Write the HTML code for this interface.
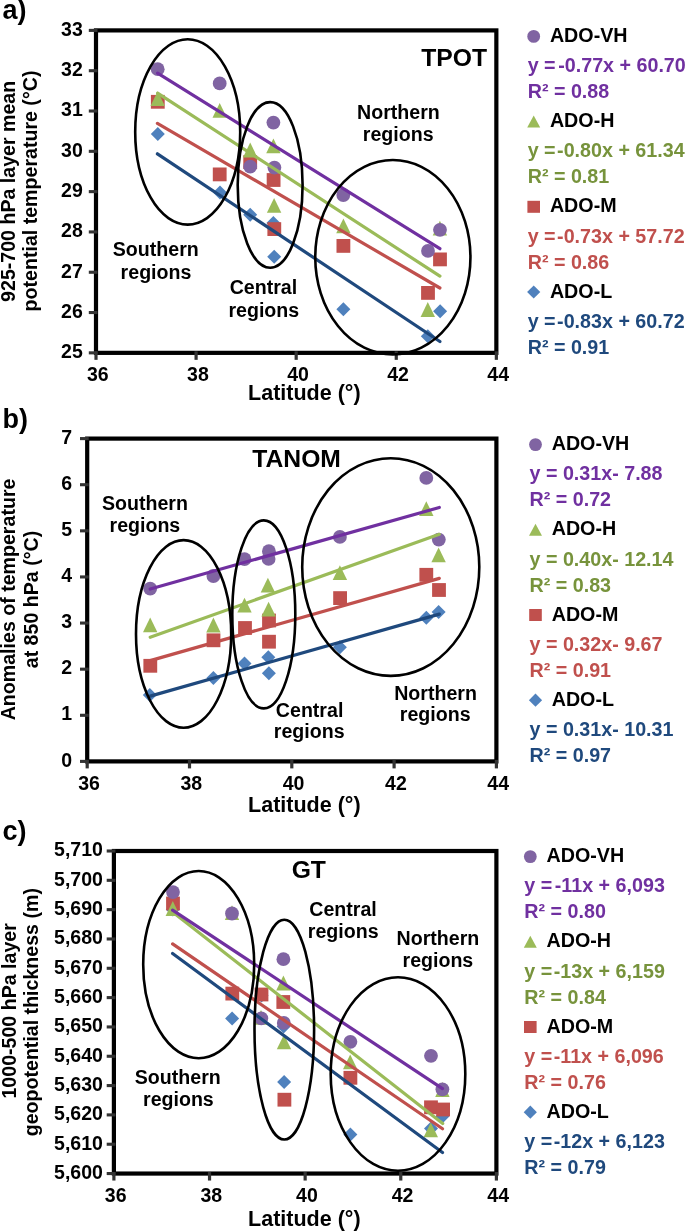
<!DOCTYPE html>
<html><head><meta charset="utf-8"><title>Chart</title>
<style>html,body{margin:0;padding:0;background:#fff;}svg{display:block;will-change:transform;}
text{font-family:"Liberation Sans", sans-serif;font-weight:bold;}</style></head>
<body><svg width="685" height="1231" viewBox="0 0 685 1231">
<rect width="685" height="1231" fill="#fff"/>
<polygon points="157.80,127.00 164.80,134.00 157.80,141.00 150.80,134.00" fill="#4F81BD"/>
<polygon points="220.00,185.50 227.00,192.50 220.00,199.50 213.00,192.50" fill="#4F81BD"/>
<polygon points="250.20,207.80 257.20,214.80 250.20,221.80 243.20,214.80" fill="#4F81BD"/>
<polygon points="273.40,216.00 280.40,223.00 273.40,230.00 266.40,223.00" fill="#4F81BD"/>
<polygon points="274.20,249.70 281.20,256.70 274.20,263.70 267.20,256.70" fill="#4F81BD"/>
<polygon points="343.40,302.30 350.40,309.30 343.40,316.30 336.40,309.30" fill="#4F81BD"/>
<polygon points="427.80,329.20 434.80,336.20 427.80,343.20 420.80,336.20" fill="#4F81BD"/>
<polygon points="440.10,304.30 447.10,311.30 440.10,318.30 433.10,311.30" fill="#4F81BD"/>
<rect x="150.90" y="94.90" width="13.80" height="13.80" fill="#C0504D"/>
<rect x="212.80" y="167.50" width="13.80" height="13.80" fill="#C0504D"/>
<rect x="243.30" y="155.20" width="13.80" height="13.80" fill="#C0504D"/>
<rect x="266.70" y="173.10" width="13.80" height="13.80" fill="#C0504D"/>
<rect x="267.40" y="222.20" width="13.80" height="13.80" fill="#C0504D"/>
<rect x="336.50" y="239.00" width="13.80" height="13.80" fill="#C0504D"/>
<rect x="421.10" y="286.00" width="13.80" height="13.80" fill="#C0504D"/>
<rect x="433.10" y="252.50" width="13.80" height="13.80" fill="#C0504D"/>
<polygon points="157.70,91.20 164.90,106.00 150.50,106.00" fill="#9BBB59"/>
<polygon points="219.70,103.00 226.90,117.80 212.50,117.80" fill="#9BBB59"/>
<polygon points="250.20,142.60 257.40,157.40 243.00,157.40" fill="#9BBB59"/>
<polygon points="273.40,138.40 280.60,153.20 266.20,153.20" fill="#9BBB59"/>
<polygon points="274.10,197.90 281.30,212.70 266.90,212.70" fill="#9BBB59"/>
<polygon points="343.40,218.50 350.60,233.30 336.20,233.30" fill="#9BBB59"/>
<polygon points="427.80,302.10 435.00,316.90 420.60,316.90" fill="#9BBB59"/>
<polygon points="439.90,220.80 447.10,235.60 432.70,235.60" fill="#9BBB59"/>
<circle cx="157.70" cy="69.20" r="6.90" fill="#8064A2"/>
<circle cx="219.70" cy="83.40" r="6.90" fill="#8064A2"/>
<circle cx="250.20" cy="166.70" r="6.90" fill="#8064A2"/>
<circle cx="273.40" cy="122.60" r="6.90" fill="#8064A2"/>
<circle cx="274.40" cy="167.60" r="6.90" fill="#8064A2"/>
<circle cx="343.30" cy="195.00" r="6.90" fill="#8064A2"/>
<circle cx="428.00" cy="250.90" r="6.90" fill="#8064A2"/>
<circle cx="440.00" cy="229.80" r="6.90" fill="#8064A2"/>
<line x1="157.40" y1="153.80" x2="439.90" y2="341.50" stroke="#1F497D" stroke-width="3.2" stroke-linecap="round"/>
<line x1="157.40" y1="123.40" x2="439.90" y2="288.00" stroke="#C0504D" stroke-width="3.2" stroke-linecap="round"/>
<line x1="157.60" y1="93.20" x2="439.90" y2="276.10" stroke="#9BBB59" stroke-width="3.2" stroke-linecap="round"/>
<line x1="157.60" y1="73.20" x2="439.90" y2="248.70" stroke="#7030A0" stroke-width="3.2" stroke-linecap="round"/>
<rect x="96.00" y="30.40" width="400.35" height="322.45" fill="none" stroke="#000" stroke-width="4.2"/>
<line x1="88.80" y1="30.40" x2="97.50" y2="30.40" stroke="#333333" stroke-width="3.1" stroke-linecap="butt"/>
<text x="82.80" y="35.80" font-size="19.5" text-anchor="end" fill="#000" >33</text>
<line x1="88.80" y1="70.71" x2="97.50" y2="70.71" stroke="#333333" stroke-width="3.1" stroke-linecap="butt"/>
<text x="82.80" y="76.11" font-size="19.5" text-anchor="end" fill="#000" >32</text>
<line x1="88.80" y1="111.01" x2="97.50" y2="111.01" stroke="#333333" stroke-width="3.1" stroke-linecap="butt"/>
<text x="82.80" y="116.41" font-size="19.5" text-anchor="end" fill="#000" >31</text>
<line x1="88.80" y1="151.32" x2="97.50" y2="151.32" stroke="#333333" stroke-width="3.1" stroke-linecap="butt"/>
<text x="82.80" y="156.72" font-size="19.5" text-anchor="end" fill="#000" >30</text>
<line x1="88.80" y1="191.63" x2="97.50" y2="191.63" stroke="#333333" stroke-width="3.1" stroke-linecap="butt"/>
<text x="82.80" y="197.03" font-size="19.5" text-anchor="end" fill="#000" >29</text>
<line x1="88.80" y1="231.93" x2="97.50" y2="231.93" stroke="#333333" stroke-width="3.1" stroke-linecap="butt"/>
<text x="82.80" y="237.33" font-size="19.5" text-anchor="end" fill="#000" >28</text>
<line x1="88.80" y1="272.24" x2="97.50" y2="272.24" stroke="#333333" stroke-width="3.1" stroke-linecap="butt"/>
<text x="82.80" y="277.64" font-size="19.5" text-anchor="end" fill="#000" >27</text>
<line x1="88.80" y1="312.54" x2="97.50" y2="312.54" stroke="#333333" stroke-width="3.1" stroke-linecap="butt"/>
<text x="82.80" y="317.94" font-size="19.5" text-anchor="end" fill="#000" >26</text>
<line x1="88.80" y1="352.85" x2="97.50" y2="352.85" stroke="#333333" stroke-width="3.1" stroke-linecap="butt"/>
<text x="82.80" y="358.25" font-size="19.5" text-anchor="end" fill="#000" >25</text>
<line x1="96.00" y1="351.35" x2="96.00" y2="359.85" stroke="#333333" stroke-width="3.2" stroke-linecap="butt"/>
<text x="97.80" y="381.00" font-size="19.5" text-anchor="middle" fill="#000" >36</text>
<line x1="196.09" y1="351.35" x2="196.09" y2="359.85" stroke="#333333" stroke-width="3.2" stroke-linecap="butt"/>
<text x="197.89" y="381.00" font-size="19.5" text-anchor="middle" fill="#000" >38</text>
<line x1="296.18" y1="351.35" x2="296.18" y2="359.85" stroke="#333333" stroke-width="3.2" stroke-linecap="butt"/>
<text x="297.98" y="381.00" font-size="19.5" text-anchor="middle" fill="#000" >40</text>
<line x1="396.26" y1="351.35" x2="396.26" y2="359.85" stroke="#333333" stroke-width="3.2" stroke-linecap="butt"/>
<text x="398.06" y="381.00" font-size="19.5" text-anchor="middle" fill="#000" >42</text>
<line x1="496.35" y1="351.35" x2="496.35" y2="359.85" stroke="#333333" stroke-width="3.2" stroke-linecap="butt"/>
<text x="498.15" y="381.00" font-size="19.5" text-anchor="middle" fill="#000" >44</text>
<ellipse cx="187.70" cy="131.95" rx="52.50" ry="92.65" fill="none" stroke="#000" stroke-width="2.6"/>
<ellipse cx="270.15" cy="184.90" rx="32.45" ry="82.80" fill="none" stroke="#000" stroke-width="2.6"/>
<ellipse cx="392.85" cy="257.25" rx="77.60" ry="97.20" fill="none" stroke="#000" stroke-width="2.6"/>
<text x="454.10" y="65.50" font-size="24.7" text-anchor="middle" fill="#000" >TPOT</text>
<text x="398.40" y="119.00" font-size="19.6" text-anchor="middle" fill="#000" >Northern</text>
<text x="398.20" y="140.90" font-size="19.6" text-anchor="middle" fill="#000" >regions</text>
<text x="155.80" y="255.90" font-size="19.6" text-anchor="middle" fill="#000" >Southern</text>
<text x="156.00" y="278.70" font-size="19.6" text-anchor="middle" fill="#000" >regions</text>
<text x="263.40" y="294.00" font-size="19.6" text-anchor="middle" fill="#000" >Central</text>
<text x="263.80" y="316.80" font-size="19.6" text-anchor="middle" fill="#000" >regions</text>
<text transform="translate(15.30,191.35) rotate(-90)" x="0" y="0" font-size="19.6" text-anchor="middle">925-700 hPa layer mean</text>
<text transform="translate(36.80,191.00) rotate(-90)" x="0" y="0" font-size="19.6" text-anchor="middle">potential temperature (°C)</text>
<text x="304.30" y="400.20" font-size="21.5" text-anchor="middle" fill="#000" >Latitude (°)</text>
<text x="2.50" y="19.40" font-size="27" text-anchor="start" fill="#000" >a)</text>
<circle cx="533.70" cy="36.40" r="6.4" fill="#8064A2"/>
<text x="549.90" y="41.90" font-size="19.7" text-anchor="start" fill="#000" >ADO-VH</text>
<text x="527.70" y="72.20" font-size="19.7" text-anchor="start" fill="#7030A0" >y =<tspan dx="2.6">-0.77x + 60.70</tspan></text>
<text x="527.70" y="98.10" font-size="19.7" text-anchor="start" fill="#7030A0" >R² = 0.88</text>
<polygon points="533.70,115.60 540.20,127.60 527.20,127.60" fill="#9BBB59"/>
<text x="549.90" y="127.10" font-size="19.7" text-anchor="start" fill="#000" >ADO-H</text>
<text x="527.70" y="157.40" font-size="19.7" text-anchor="start" fill="#77933C" >y =<tspan dx="1.5">-0.80x + 61.34</tspan></text>
<text x="527.70" y="183.30" font-size="19.7" text-anchor="start" fill="#77933C" >R² = 0.81</text>
<rect x="527.40" y="200.80" width="12.6" height="12" fill="#C0504D"/>
<text x="549.90" y="212.30" font-size="19.7" text-anchor="start" fill="#000" >ADO-M</text>
<text x="527.70" y="242.60" font-size="19.7" text-anchor="start" fill="#C0504D" >y =<tspan dx="1.5">-0.73x + 57.72</tspan></text>
<text x="527.70" y="268.50" font-size="19.7" text-anchor="start" fill="#C0504D" >R² = 0.86</text>
<polygon points="533.70,285.40 540.30,292.00 533.70,298.60 527.10,292.00" fill="#4F81BD"/>
<text x="549.90" y="297.50" font-size="19.7" text-anchor="start" fill="#000" >ADO-L</text>
<text x="527.70" y="327.80" font-size="19.7" text-anchor="start" fill="#1F497D" >y =<tspan dx="1.5">-0.83x + 60.72</tspan></text>
<text x="527.70" y="353.70" font-size="19.7" text-anchor="start" fill="#1F497D" >R² = 0.91</text>
<polygon points="149.80,687.90 156.80,694.90 149.80,701.90 142.80,694.90" fill="#4F81BD"/>
<polygon points="213.40,671.10 220.40,678.10 213.40,685.10 206.40,678.10" fill="#4F81BD"/>
<polygon points="244.50,656.50 251.50,663.50 244.50,670.50 237.50,663.50" fill="#4F81BD"/>
<polygon points="268.30,650.20 275.30,657.20 268.30,664.20 261.30,657.20" fill="#4F81BD"/>
<polygon points="268.90,666.30 275.90,673.30 268.90,680.30 261.90,673.30" fill="#4F81BD"/>
<polygon points="339.90,640.20 346.90,647.20 339.90,654.20 332.90,647.20" fill="#4F81BD"/>
<polygon points="426.30,610.80 433.30,617.80 426.30,624.80 419.30,617.80" fill="#4F81BD"/>
<polygon points="438.60,605.10 445.60,612.10 438.60,619.10 431.60,612.10" fill="#4F81BD"/>
<rect x="143.40" y="658.90" width="13.80" height="13.80" fill="#C0504D"/>
<rect x="206.60" y="633.40" width="13.80" height="13.80" fill="#C0504D"/>
<rect x="238.10" y="621.10" width="13.80" height="13.80" fill="#C0504D"/>
<rect x="262.10" y="613.60" width="13.80" height="13.80" fill="#C0504D"/>
<rect x="262.10" y="634.80" width="13.80" height="13.80" fill="#C0504D"/>
<rect x="333.20" y="591.20" width="13.80" height="13.80" fill="#C0504D"/>
<rect x="419.40" y="567.90" width="13.80" height="13.80" fill="#C0504D"/>
<rect x="432.10" y="583.10" width="13.80" height="13.80" fill="#C0504D"/>
<polygon points="150.20,617.50 157.40,632.30 143.00,632.30" fill="#9BBB59"/>
<polygon points="213.40,617.60 220.60,632.40 206.20,632.40" fill="#9BBB59"/>
<polygon points="244.50,597.80 251.70,612.60 237.30,612.60" fill="#9BBB59"/>
<polygon points="267.90,577.70 275.10,592.50 260.70,592.50" fill="#9BBB59"/>
<polygon points="268.60,601.80 275.80,616.60 261.40,616.60" fill="#9BBB59"/>
<polygon points="339.90,565.30 347.10,580.10 332.70,580.10" fill="#9BBB59"/>
<polygon points="426.30,501.20 433.50,516.00 419.10,516.00" fill="#9BBB59"/>
<polygon points="438.60,547.50 445.80,562.30 431.40,562.30" fill="#9BBB59"/>
<circle cx="150.20" cy="588.60" r="6.90" fill="#8064A2"/>
<circle cx="213.40" cy="576.00" r="6.90" fill="#8064A2"/>
<circle cx="244.50" cy="559.20" r="6.90" fill="#8064A2"/>
<circle cx="268.90" cy="551.20" r="6.90" fill="#8064A2"/>
<circle cx="268.60" cy="558.90" r="6.90" fill="#8064A2"/>
<circle cx="339.90" cy="536.90" r="6.90" fill="#8064A2"/>
<circle cx="426.30" cy="477.90" r="6.90" fill="#8064A2"/>
<circle cx="438.80" cy="539.60" r="6.90" fill="#8064A2"/>
<line x1="150.20" y1="696.10" x2="439.30" y2="614.10" stroke="#1F497D" stroke-width="3.2" stroke-linecap="round"/>
<line x1="150.20" y1="660.60" x2="439.30" y2="578.40" stroke="#C0504D" stroke-width="3.2" stroke-linecap="round"/>
<line x1="150.20" y1="637.30" x2="439.30" y2="534.30" stroke="#9BBB59" stroke-width="3.2" stroke-linecap="round"/>
<line x1="150.20" y1="589.00" x2="439.30" y2="507.50" stroke="#7030A0" stroke-width="3.2" stroke-linecap="round"/>
<rect x="87.20" y="438.60" width="409.20" height="322.80" fill="none" stroke="#000" stroke-width="4.2"/>
<line x1="80.00" y1="438.60" x2="88.70" y2="438.60" stroke="#333333" stroke-width="3.1" stroke-linecap="butt"/>
<text x="72.00" y="443.80" font-size="19.5" text-anchor="end" fill="#000" >7</text>
<line x1="80.00" y1="484.71" x2="88.70" y2="484.71" stroke="#333333" stroke-width="3.1" stroke-linecap="butt"/>
<text x="72.00" y="489.91" font-size="19.5" text-anchor="end" fill="#000" >6</text>
<line x1="80.00" y1="530.83" x2="88.70" y2="530.83" stroke="#333333" stroke-width="3.1" stroke-linecap="butt"/>
<text x="72.00" y="536.03" font-size="19.5" text-anchor="end" fill="#000" >5</text>
<line x1="80.00" y1="576.94" x2="88.70" y2="576.94" stroke="#333333" stroke-width="3.1" stroke-linecap="butt"/>
<text x="72.00" y="582.14" font-size="19.5" text-anchor="end" fill="#000" >4</text>
<line x1="80.00" y1="623.06" x2="88.70" y2="623.06" stroke="#333333" stroke-width="3.1" stroke-linecap="butt"/>
<text x="72.00" y="628.26" font-size="19.5" text-anchor="end" fill="#000" >3</text>
<line x1="80.00" y1="669.17" x2="88.70" y2="669.17" stroke="#333333" stroke-width="3.1" stroke-linecap="butt"/>
<text x="72.00" y="674.37" font-size="19.5" text-anchor="end" fill="#000" >2</text>
<line x1="80.00" y1="715.29" x2="88.70" y2="715.29" stroke="#333333" stroke-width="3.1" stroke-linecap="butt"/>
<text x="72.00" y="720.49" font-size="19.5" text-anchor="end" fill="#000" >1</text>
<line x1="80.00" y1="761.40" x2="88.70" y2="761.40" stroke="#333333" stroke-width="3.1" stroke-linecap="butt"/>
<text x="72.00" y="766.60" font-size="19.5" text-anchor="end" fill="#000" >0</text>
<line x1="87.20" y1="759.90" x2="87.20" y2="768.40" stroke="#333333" stroke-width="3.2" stroke-linecap="butt"/>
<text x="89.00" y="789.70" font-size="19.5" text-anchor="middle" fill="#000" >36</text>
<line x1="189.50" y1="759.90" x2="189.50" y2="768.40" stroke="#333333" stroke-width="3.2" stroke-linecap="butt"/>
<text x="191.30" y="789.70" font-size="19.5" text-anchor="middle" fill="#000" >38</text>
<line x1="291.80" y1="759.90" x2="291.80" y2="768.40" stroke="#333333" stroke-width="3.2" stroke-linecap="butt"/>
<text x="293.60" y="789.70" font-size="19.5" text-anchor="middle" fill="#000" >40</text>
<line x1="394.10" y1="759.90" x2="394.10" y2="768.40" stroke="#333333" stroke-width="3.2" stroke-linecap="butt"/>
<text x="395.90" y="789.70" font-size="19.5" text-anchor="middle" fill="#000" >42</text>
<line x1="496.40" y1="759.90" x2="496.40" y2="768.40" stroke="#333333" stroke-width="3.2" stroke-linecap="butt"/>
<text x="498.20" y="789.70" font-size="19.5" text-anchor="middle" fill="#000" >44</text>
<ellipse cx="183.60" cy="633.90" rx="47.60" ry="93.80" fill="none" stroke="#000" stroke-width="2.6"/>
<ellipse cx="263.80" cy="614.40" rx="31.50" ry="94.00" fill="none" stroke="#000" stroke-width="2.6"/>
<ellipse cx="390.75" cy="567.10" rx="88.55" ry="108.80" fill="none" stroke="#000" stroke-width="2.6"/>
<text x="296.60" y="467.10" font-size="24.7" text-anchor="middle" fill="#000" >TANOM</text>
<text x="144.90" y="509.80" font-size="19.6" text-anchor="middle" fill="#000" >Southern</text>
<text x="144.90" y="532.40" font-size="19.6" text-anchor="middle" fill="#000" >regions</text>
<text x="309.60" y="716.70" font-size="19.6" text-anchor="middle" fill="#000" >Central</text>
<text x="309.20" y="737.70" font-size="19.6" text-anchor="middle" fill="#000" >regions</text>
<text x="435.60" y="699.90" font-size="19.6" text-anchor="middle" fill="#000" >Northern</text>
<text x="435.20" y="721.30" font-size="19.6" text-anchor="middle" fill="#000" >regions</text>
<text transform="translate(15.20,599.45) rotate(-90)" x="0" y="0" font-size="19.6" text-anchor="middle">Anomalies of temperature</text>
<text transform="translate(38.25,599.55) rotate(-90)" x="0" y="0" font-size="19.6" text-anchor="middle">at 850 hPa (°C)</text>
<text x="304.30" y="811.60" font-size="21.5" text-anchor="middle" fill="#000" >Latitude (°)</text>
<text x="2.50" y="427.60" font-size="27" text-anchor="start" fill="#000" >b)</text>
<circle cx="535.50" cy="444.60" r="6.4" fill="#8064A2"/>
<text x="551.70" y="450.10" font-size="19.7" text-anchor="start" fill="#000" >ADO-VH</text>
<text x="529.50" y="480.40" font-size="19.7" text-anchor="start" fill="#7030A0" >y = 0.31x- 7.88</text>
<text x="529.50" y="506.30" font-size="19.7" text-anchor="start" fill="#7030A0" >R² = 0.72</text>
<polygon points="535.50,523.80 542.00,535.80 529.00,535.80" fill="#9BBB59"/>
<text x="551.70" y="535.30" font-size="19.7" text-anchor="start" fill="#000" >ADO-H</text>
<text x="529.50" y="565.60" font-size="19.7" text-anchor="start" fill="#77933C" >y = 0.40x- 12.14</text>
<text x="529.50" y="591.50" font-size="19.7" text-anchor="start" fill="#77933C" >R² = 0.83</text>
<rect x="529.20" y="609.00" width="12.6" height="12" fill="#C0504D"/>
<text x="551.70" y="620.50" font-size="19.7" text-anchor="start" fill="#000" >ADO-M</text>
<text x="529.50" y="650.80" font-size="19.7" text-anchor="start" fill="#C0504D" >y = 0.32x- 9.67</text>
<text x="529.50" y="676.70" font-size="19.7" text-anchor="start" fill="#C0504D" >R² = 0.91</text>
<polygon points="535.50,693.60 542.10,700.20 535.50,706.80 528.90,700.20" fill="#4F81BD"/>
<text x="551.70" y="705.70" font-size="19.7" text-anchor="start" fill="#000" >ADO-L</text>
<text x="529.50" y="736.00" font-size="19.7" text-anchor="start" fill="#1F497D" >y = 0.31x- 10.31</text>
<text x="529.50" y="761.90" font-size="19.7" text-anchor="start" fill="#1F497D" >R² = 0.97</text>
<polygon points="172.80,902.50 179.80,909.50 172.80,916.50 165.80,909.50" fill="#4F81BD"/>
<polygon points="232.10,1011.40 239.10,1018.40 232.10,1025.40 225.10,1018.40" fill="#4F81BD"/>
<polygon points="261.50,988.50 268.50,995.50 261.50,1002.50 254.50,995.50" fill="#4F81BD"/>
<polygon points="283.60,1019.60 290.60,1026.60 283.60,1033.60 276.60,1026.60" fill="#4F81BD"/>
<polygon points="284.10,1075.00 291.10,1082.00 284.10,1089.00 277.10,1082.00" fill="#4F81BD"/>
<polygon points="350.40,1127.50 357.40,1134.50 350.40,1141.50 343.40,1134.50" fill="#4F81BD"/>
<polygon points="431.00,1121.40 438.00,1128.40 431.00,1135.40 424.00,1128.40" fill="#4F81BD"/>
<polygon points="442.40,1109.40 449.40,1116.40 442.40,1123.40 435.40,1116.40" fill="#4F81BD"/>
<rect x="166.10" y="896.60" width="13.80" height="13.80" fill="#C0504D"/>
<rect x="225.40" y="986.70" width="13.80" height="13.80" fill="#C0504D"/>
<rect x="254.60" y="987.60" width="13.80" height="13.80" fill="#C0504D"/>
<rect x="276.40" y="995.10" width="13.80" height="13.80" fill="#C0504D"/>
<rect x="277.50" y="1092.80" width="13.80" height="13.80" fill="#C0504D"/>
<rect x="343.50" y="1070.90" width="13.80" height="13.80" fill="#C0504D"/>
<rect x="424.10" y="1100.40" width="13.80" height="13.80" fill="#C0504D"/>
<rect x="436.20" y="1102.60" width="13.80" height="13.80" fill="#C0504D"/>
<polygon points="172.80,901.10 180.00,915.90 165.60,915.90" fill="#9BBB59"/>
<polygon points="232.00,905.30 239.20,920.10 224.80,920.10" fill="#9BBB59"/>
<polygon points="261.00,1010.00 268.20,1024.80 253.80,1024.80" fill="#9BBB59"/>
<polygon points="283.40,975.60 290.60,990.40 276.20,990.40" fill="#9BBB59"/>
<polygon points="284.00,1034.40 291.20,1049.20 276.80,1049.20" fill="#9BBB59"/>
<polygon points="350.20,1054.50 357.40,1069.30 343.00,1069.30" fill="#9BBB59"/>
<polygon points="430.80,1122.50 438.00,1137.30 423.60,1137.30" fill="#9BBB59"/>
<polygon points="442.40,1082.10 449.60,1096.90 435.20,1096.90" fill="#9BBB59"/>
<circle cx="173.00" cy="892.10" r="6.90" fill="#8064A2"/>
<circle cx="232.00" cy="913.50" r="6.90" fill="#8064A2"/>
<circle cx="261.30" cy="1018.30" r="6.90" fill="#8064A2"/>
<circle cx="283.40" cy="959.20" r="6.90" fill="#8064A2"/>
<circle cx="283.80" cy="1022.90" r="6.90" fill="#8064A2"/>
<circle cx="350.40" cy="1041.80" r="6.90" fill="#8064A2"/>
<circle cx="431.00" cy="1055.80" r="6.90" fill="#8064A2"/>
<circle cx="442.40" cy="1089.30" r="6.90" fill="#8064A2"/>
<line x1="172.60" y1="953.50" x2="442.50" y2="1152.50" stroke="#1F497D" stroke-width="3.2" stroke-linecap="round"/>
<line x1="172.60" y1="943.90" x2="442.50" y2="1128.80" stroke="#C0504D" stroke-width="3.2" stroke-linecap="round"/>
<line x1="172.60" y1="912.00" x2="442.70" y2="1123.60" stroke="#9BBB59" stroke-width="3.2" stroke-linecap="round"/>
<line x1="172.60" y1="910.10" x2="442.50" y2="1088.60" stroke="#7030A0" stroke-width="3.2" stroke-linecap="round"/>
<rect x="113.90" y="851.00" width="382.50" height="322.55" fill="none" stroke="#000" stroke-width="4.2"/>
<line x1="106.70" y1="851.00" x2="115.40" y2="851.00" stroke="#333333" stroke-width="3.1" stroke-linecap="butt"/>
<text x="102.90" y="856.40" font-size="19.5" text-anchor="end" fill="#000" >5,710</text>
<line x1="106.70" y1="880.32" x2="115.40" y2="880.32" stroke="#333333" stroke-width="3.1" stroke-linecap="butt"/>
<text x="102.90" y="885.72" font-size="19.5" text-anchor="end" fill="#000" >5,700</text>
<line x1="106.70" y1="909.65" x2="115.40" y2="909.65" stroke="#333333" stroke-width="3.1" stroke-linecap="butt"/>
<text x="102.90" y="915.05" font-size="19.5" text-anchor="end" fill="#000" >5,690</text>
<line x1="106.70" y1="938.97" x2="115.40" y2="938.97" stroke="#333333" stroke-width="3.1" stroke-linecap="butt"/>
<text x="102.90" y="944.37" font-size="19.5" text-anchor="end" fill="#000" >5,680</text>
<line x1="106.70" y1="968.29" x2="115.40" y2="968.29" stroke="#333333" stroke-width="3.1" stroke-linecap="butt"/>
<text x="102.90" y="973.69" font-size="19.5" text-anchor="end" fill="#000" >5,670</text>
<line x1="106.70" y1="997.61" x2="115.40" y2="997.61" stroke="#333333" stroke-width="3.1" stroke-linecap="butt"/>
<text x="102.90" y="1003.01" font-size="19.5" text-anchor="end" fill="#000" >5,660</text>
<line x1="106.70" y1="1026.94" x2="115.40" y2="1026.94" stroke="#333333" stroke-width="3.1" stroke-linecap="butt"/>
<text x="102.90" y="1032.34" font-size="19.5" text-anchor="end" fill="#000" >5,650</text>
<line x1="106.70" y1="1056.26" x2="115.40" y2="1056.26" stroke="#333333" stroke-width="3.1" stroke-linecap="butt"/>
<text x="102.90" y="1061.66" font-size="19.5" text-anchor="end" fill="#000" >5,640</text>
<line x1="106.70" y1="1085.58" x2="115.40" y2="1085.58" stroke="#333333" stroke-width="3.1" stroke-linecap="butt"/>
<text x="102.90" y="1090.98" font-size="19.5" text-anchor="end" fill="#000" >5,630</text>
<line x1="106.70" y1="1114.90" x2="115.40" y2="1114.90" stroke="#333333" stroke-width="3.1" stroke-linecap="butt"/>
<text x="102.90" y="1120.30" font-size="19.5" text-anchor="end" fill="#000" >5,620</text>
<line x1="106.70" y1="1144.23" x2="115.40" y2="1144.23" stroke="#333333" stroke-width="3.1" stroke-linecap="butt"/>
<text x="102.90" y="1149.63" font-size="19.5" text-anchor="end" fill="#000" >5,610</text>
<line x1="106.70" y1="1173.55" x2="115.40" y2="1173.55" stroke="#333333" stroke-width="3.1" stroke-linecap="butt"/>
<text x="102.90" y="1178.95" font-size="19.5" text-anchor="end" fill="#000" >5,600</text>
<line x1="113.90" y1="1172.05" x2="113.90" y2="1180.55" stroke="#333333" stroke-width="3.2" stroke-linecap="butt"/>
<text x="115.70" y="1202.20" font-size="19.5" text-anchor="middle" fill="#000" >36</text>
<line x1="209.53" y1="1172.05" x2="209.53" y2="1180.55" stroke="#333333" stroke-width="3.2" stroke-linecap="butt"/>
<text x="211.33" y="1202.20" font-size="19.5" text-anchor="middle" fill="#000" >38</text>
<line x1="305.15" y1="1172.05" x2="305.15" y2="1180.55" stroke="#333333" stroke-width="3.2" stroke-linecap="butt"/>
<text x="306.95" y="1202.20" font-size="19.5" text-anchor="middle" fill="#000" >40</text>
<line x1="400.77" y1="1172.05" x2="400.77" y2="1180.55" stroke="#333333" stroke-width="3.2" stroke-linecap="butt"/>
<text x="402.57" y="1202.20" font-size="19.5" text-anchor="middle" fill="#000" >42</text>
<line x1="496.40" y1="1172.05" x2="496.40" y2="1180.55" stroke="#333333" stroke-width="3.2" stroke-linecap="butt"/>
<text x="498.20" y="1202.20" font-size="19.5" text-anchor="middle" fill="#000" >44</text>
<ellipse cx="198.70" cy="964.60" rx="55.50" ry="93.60" fill="none" stroke="#000" stroke-width="2.6"/>
<ellipse cx="284.30" cy="1029.60" rx="29.80" ry="109.90" fill="none" stroke="#000" stroke-width="2.6"/>
<ellipse cx="398.00" cy="1074.00" rx="67.30" ry="96.70" fill="none" stroke="#000" stroke-width="2.6"/>
<text x="308.80" y="878.10" font-size="24.7" text-anchor="middle" fill="#000" >GT</text>
<text x="343.00" y="915.90" font-size="19.6" text-anchor="middle" fill="#000" >Central</text>
<text x="343.20" y="938.00" font-size="19.6" text-anchor="middle" fill="#000" >regions</text>
<text x="437.90" y="944.50" font-size="19.6" text-anchor="middle" fill="#000" >Northern</text>
<text x="437.90" y="966.50" font-size="19.6" text-anchor="middle" fill="#000" >regions</text>
<text x="177.80" y="1083.70" font-size="19.6" text-anchor="middle" fill="#000" >Southern</text>
<text x="178.40" y="1106.30" font-size="19.6" text-anchor="middle" fill="#000" >regions</text>
<text transform="translate(15.90,1010.85) rotate(-90)" x="0" y="0" font-size="19.6" text-anchor="middle">1000-500 hPa layer</text>
<text transform="translate(38.20,1012.20) rotate(-90)" x="0" y="0" font-size="19.6" text-anchor="middle">geopotential thickness (m)</text>
<text x="304.30" y="1225.50" font-size="21.5" text-anchor="middle" fill="#000" >Latitude (°)</text>
<text x="2.50" y="840.30" font-size="27" text-anchor="start" fill="#000" >c)</text>
<circle cx="530.30" cy="856.60" r="6.4" fill="#8064A2"/>
<text x="546.50" y="862.10" font-size="19.7" text-anchor="start" fill="#000" >ADO-VH</text>
<text x="524.30" y="892.40" font-size="19.7" text-anchor="start" fill="#7030A0" >y =<tspan dx="2.6">-11x + 6,093</tspan></text>
<text x="524.30" y="918.30" font-size="19.7" text-anchor="start" fill="#7030A0" >R² = 0.80</text>
<polygon points="530.30,935.80 536.80,947.80 523.80,947.80" fill="#9BBB59"/>
<text x="546.50" y="947.30" font-size="19.7" text-anchor="start" fill="#000" >ADO-H</text>
<text x="524.30" y="977.60" font-size="19.7" text-anchor="start" fill="#77933C" >y =<tspan dx="1.5">-13x + 6,159</tspan></text>
<text x="524.30" y="1003.50" font-size="19.7" text-anchor="start" fill="#77933C" >R² = 0.84</text>
<rect x="524.00" y="1021.00" width="12.6" height="12" fill="#C0504D"/>
<text x="546.50" y="1032.50" font-size="19.7" text-anchor="start" fill="#000" >ADO-M</text>
<text x="524.30" y="1062.80" font-size="19.7" text-anchor="start" fill="#C0504D" >y =<tspan dx="1.5">-11x + 6,096</tspan></text>
<text x="524.30" y="1088.70" font-size="19.7" text-anchor="start" fill="#C0504D" >R² = 0.76</text>
<polygon points="530.30,1105.60 536.90,1112.20 530.30,1118.80 523.70,1112.20" fill="#4F81BD"/>
<text x="546.50" y="1117.70" font-size="19.7" text-anchor="start" fill="#000" >ADO-L</text>
<text x="524.30" y="1148.00" font-size="19.7" text-anchor="start" fill="#1F497D" >y =<tspan dx="1.5">-12x + 6,123</tspan></text>
<text x="524.30" y="1173.90" font-size="19.7" text-anchor="start" fill="#1F497D" >R² = 0.79</text>
</svg></body></html>
